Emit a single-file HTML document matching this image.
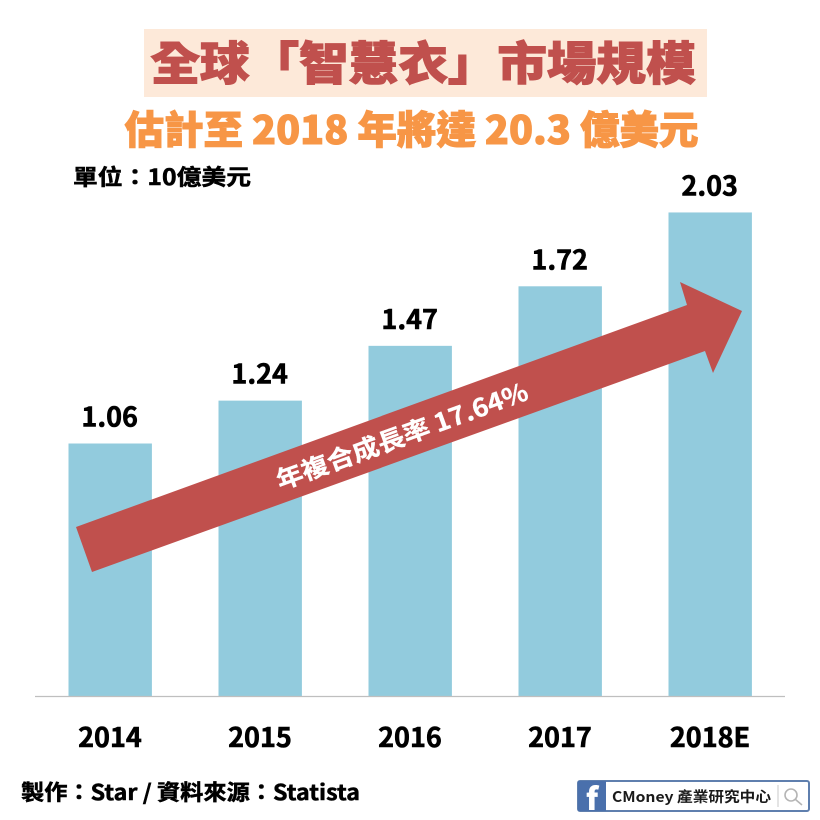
<!DOCTYPE html>
<html lang="zh-Hant">
<head>
<meta charset="utf-8">
<title>全球「智慧衣」市場規模</title>
<style>
html,body{margin:0;padding:0;background:#fff;}
svg{display:block;font-family:"Liberation Sans","Noto Sans CJK TC",sans-serif;}
text{font-family:"Noto Sans CJK TC","Liberation Sans",sans-serif;}
</style>
</head>
<body>
<svg id="chart" xmlns="http://www.w3.org/2000/svg" width="820" height="820" viewBox="0 0 820 820">
  <rect width="820" height="820" fill="#ffffff"/>
  <rect x="144" y="29" width="563" height="68" fill="#fde9d9"/>
  <text x="423" y="80" text-anchor="middle" font-size="46" font-weight="900" fill="#c0504d" stroke="#c0504d" stroke-width="1.1" textLength="545" lengthAdjust="spacingAndGlyphs">全球「智慧衣」市場規模</text>
  <text x="411.5" y="144" text-anchor="middle" font-size="39" font-weight="900" fill="#f79646" stroke="#f79646" stroke-width="1" textLength="574" lengthAdjust="spacingAndGlyphs">估計至 2018 年將達 20.3 億美元</text>
  <text x="73" y="185" font-size="22" font-weight="700" fill="#000" stroke="#000" stroke-width="0.5" textLength="178" lengthAdjust="spacingAndGlyphs">單位：10億美元</text>
  <g id="bars"></g>
  <g id="value-labels"></g>
  <g id="x-labels"></g>
  <line x1="35" y1="696.5" x2="785" y2="696.5" stroke="#bfbfbf" stroke-width="1.2"/>
  <polygon points="76,527 687,305 680,282 742,311 713,373 705,351 92,572" fill="#c0504d"/>
  <text transform="translate(402,436) rotate(-20)" x="0" y="9" text-anchor="middle" font-size="25" font-weight="700" fill="#ffffff" stroke="#ffffff" stroke-width="0.3" textLength="266" lengthAdjust="spacingAndGlyphs">年複合成長率 17.64%</text>
  <text x="21" y="800" font-size="21.5" font-weight="700" fill="#000" stroke="#000" stroke-width="0.5" textLength="339" lengthAdjust="spacingAndGlyphs">製作：Star / 資料來源：Statista</text>
  <g>
    <rect x="578" y="781" width="231" height="30" rx="2" fill="#ffffff" stroke="#5f7fae" stroke-width="2"/>
    <rect x="578" y="781" width="28" height="30" fill="#4a70ac"/>
    <text x="592" y="810" text-anchor="middle" font-size="31" font-weight="900" fill="#ffffff">f</text>
    <text x="612" y="802" font-size="14.5" font-weight="700" fill="#1a1a1a" textLength="159" lengthAdjust="spacingAndGlyphs">CMoney 產業研究中心</text>
    <line x1="778" y1="785" x2="778" y2="807" stroke="#c9c9c9" stroke-width="1"/>
    <g fill="none" stroke="#b5b5b5" stroke-width="1.6">
      <circle cx="791" cy="795" r="6"/>
      <line x1="795.5" y1="799.5" x2="802" y2="805"/>
    </g>
  </g>
</svg>
<script>
var categories = ["2014", "2015", "2016", "2017", "2018E"];
var seriesValues = [1.06, 1.24, 1.47, 1.72, 2.03];
var valueLabels = ["1.06", "1.24", "1.47", "1.72", "2.03"];

var SVG_NS = "http://www.w3.org/2000/svg";
var baseY = 696;
var unitHeight = 238.2;
var firstCenter = 110.2;
var band = 150;
var barWidth = 83.4;

function xScale(i) { return firstCenter + band * i; }
function yScale(v) { return baseY - v * unitHeight; }

var barsGroup = document.getElementById("bars");
var valuesGroup = document.getElementById("value-labels");
var xLabelsGroup = document.getElementById("x-labels");

seriesValues.forEach(function (v, i) {
  var bar = document.createElementNS(SVG_NS, "rect");
  
  
  bar.setAttribute("x", xScale(i) - barWidth / 2);
  bar.setAttribute("y", yScale(v));
  bar.setAttribute("width", barWidth);
  bar.setAttribute("height", baseY - yScale(v));
  bar.setAttribute("fill", "#92cbdd");
  barsGroup.appendChild(bar);

  var valueText = document.createElementNS(SVG_NS, "text");
  
  
  valueText.setAttribute("x", xScale(i) - 0.5);
  valueText.setAttribute("y", yScale(v) - 17);
  valueText.setAttribute("text-anchor", "middle");
  valueText.setAttribute("font-size", "27");
  valueText.setAttribute("font-weight", "700");
  valueText.setAttribute("fill", "#000");
  valueText.setAttribute("stroke", "#000");
  valueText.setAttribute("stroke-width", "0.6");
  valueText.textContent = valueLabels[i];
  valuesGroup.appendChild(valueText);

  var catText = document.createElementNS(SVG_NS, "text");
  
  
  catText.setAttribute("x", xScale(i) - 0.2);
  catText.setAttribute("y", 747);
  catText.setAttribute("text-anchor", "middle");
  catText.setAttribute("font-size", "27");
  catText.setAttribute("font-weight", "700");
  catText.setAttribute("fill", "#000");
  catText.setAttribute("stroke", "#000");
  catText.setAttribute("stroke-width", "0.6");
  catText.textContent = categories[i];
  xLabelsGroup.appendChild(catText);
});
</script>
</body>
</html>
